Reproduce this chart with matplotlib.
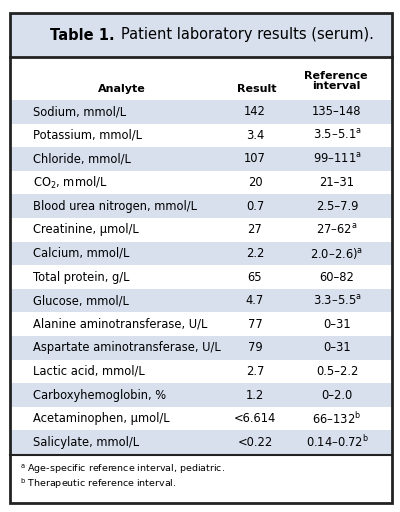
import matplotlib.pyplot as plt
from matplotlib.patches import Rectangle

title_bold = 'Table 1.'
title_rest = 'Patient laboratory results (serum).'
headers = ['Analyte', 'Result', 'Reference\ninterval']
analytes = ['Sodium, mmol/L', 'Potassium, mmol/L', 'Chloride, mmol/L', 'CO$_2$, mmol/L',
            'Blood urea nitrogen, mmol/L', 'Creatinine, μmol/L', 'Calcium, mmol/L',
            'Total protein, g/L', 'Glucose, mmol/L', 'Alanine aminotransferase, U/L',
            'Aspartate aminotransferase, U/L', 'Lactic acid, mmol/L', 'Carboxyhemoglobin, %',
            'Acetaminophen, μmol/L', 'Salicylate, mmol/L']
results = ['142', '3.4', '107', '20', '0.7', '27', '2.2', '65', '4.7', '77', '79', '2.7',
           '1.2', '<6.614', '<0.22']
intervals = ['135–148', '3.5–5.1$^{\\mathrm{a}}$', '99–111$^{\\mathrm{a}}$', '21–31', '2.5–7.9',
             '27–62$^{\\mathrm{a}}$', '2.0–2.6)$^{\\mathrm{a}}$', '60–82', '3.3–5.5$^{\\mathrm{a}}$',
             '0–31', '0–31', '0.5–2.2', '0–2.0', '66–132$^{\\mathrm{b}}$',
             '0.14–0.72$^{\\mathrm{b}}$']
footnotes = ['$^{\\mathrm{a}}$ Age-specific reference interval, pediatric.',
             '$^{\\mathrm{b}}$ Therapeutic reference interval.']

blue = '#d8e0ee'
fig = plt.figure(figsize=(4, 5.12), dpi=100)
ax = fig.add_axes([0, 0, 1, 1])
ax.set_xlim(0, 400)
ax.set_ylim(512, 0)
ax.axis('off')

L, R = 10, 392
# title band
ax.add_patch(Rectangle((L, 13), R - L, 44, facecolor=blue, edgecolor='none'))
ax.text(50, 35, title_bold, fontsize=10.5, fontweight='bold', va='center', ha='left')
ax.text(121, 35, title_rest, fontsize=10.5, va='center', ha='left')

# header
ax.text(122, 89, headers[0], fontsize=8, fontweight='bold', ha='center', va='center')
ax.text(257, 89, headers[1], fontsize=8, fontweight='bold', ha='center', va='center')
ax.text(336, 81, headers[2], fontsize=8, fontweight='bold', ha='center', va='center',
        linespacing=1.1)

top, rh = 100, 23.6
for i, (a, r, iv) in enumerate(zip(analytes, results, intervals)):
    y0 = top + i * rh
    if i % 2 == 0:
        ax.add_patch(Rectangle((L, y0), R - L, rh, facecolor=blue, edgecolor='none'))
    yc = y0 + rh / 2
    ax.text(33, yc, a, fontsize=8.3, ha='left', va='center')
    ax.text(255, yc, r, fontsize=8.3, ha='center', va='center')
    ax.text(337, yc, iv, fontsize=8.3, ha='center', va='center')

bottom = top + len(analytes) * rh
ax.plot([L, R], [57, 57], color='#222222', lw=2)
ax.plot([L, R], [bottom + 1, bottom + 1], color='#222222', lw=1.5)
ax.text(20, bottom + 15, footnotes[0], fontsize=6.8, ha='left', va='center')
ax.text(20, bottom + 30, footnotes[1], fontsize=6.8, ha='left', va='center')
ax.add_patch(Rectangle((L, 13), R - L, 490, facecolor='none', edgecolor='#222222', lw=2))

fig.savefig('out.png', dpi=100)
